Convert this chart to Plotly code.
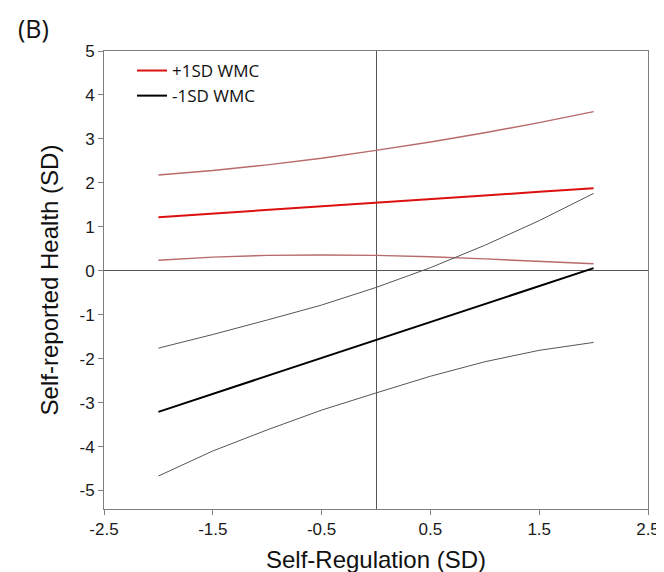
import plotly.graph_objects as go

# Self-Regulation (SD) values at which lines were evaluated
x_vals = [-2.0, -1.5, -1.0, -0.5, 0.0, 0.5, 1.0, 1.5, 2.0]

# +1SD WMC: estimate and confidence bounds
hi_mid = [1.22, 1.30, 1.39, 1.47, 1.55, 1.63, 1.71, 1.80, 1.88]
hi_upper = [2.18, 2.28, 2.41, 2.56, 2.74, 2.93, 3.14, 3.37, 3.62]
hi_lower = [0.24, 0.31, 0.35, 0.36, 0.35, 0.32, 0.27, 0.22, 0.16]

# -1SD WMC: estimate and confidence bounds
lo_mid = [-3.21, -2.80, -2.39, -1.99, -1.58, -1.17, -0.76, -0.35, 0.06]
lo_upper = [-1.76, -1.45, -1.12, -0.78, -0.38, 0.07, 0.58, 1.14, 1.76]
lo_lower = [-4.67, -4.10, -3.62, -3.17, -2.78, -2.40, -2.07, -1.81, -1.63]

x_ticks = [-2.5, -1.5, -0.5, 0.5, 1.5, 2.5]
y_ticks = [-5, -4, -3, -2, -1, 0, 1, 2, 3, 4, 5]

W, H = 664, 572
ML, MR, MT, MB = 96, 24, 43, 64

fig = go.Figure()

# confidence bounds (thin lines)
fig.add_trace(go.Scatter(x=x_vals, y=hi_upper, mode="lines", line=dict(color="#b86a6a", width=1.4), showlegend=False, hoverinfo="skip"))
fig.add_trace(go.Scatter(x=x_vals, y=hi_lower, mode="lines", line=dict(color="#b86a6a", width=1.4), showlegend=False, hoverinfo="skip"))
fig.add_trace(go.Scatter(x=x_vals, y=lo_upper, mode="lines", line=dict(color="#555555", width=1), showlegend=False, hoverinfo="skip"))
fig.add_trace(go.Scatter(x=x_vals, y=lo_lower, mode="lines", line=dict(color="#555555", width=1), showlegend=False, hoverinfo="skip"))

# main lines
fig.add_trace(go.Scatter(x=x_vals, y=hi_mid, mode="lines", name="+1SD WMC", line=dict(color="#dd1010", width=2)))
fig.add_trace(go.Scatter(x=x_vals, y=lo_mid, mode="lines", name="-1SD WMC", line=dict(color="#000000", width=2)))

axis_common = dict(
    showline=True, linecolor="#7f7f7f", linewidth=1, mirror=True,
    ticks="outside", ticklen=5, tickcolor="#7f7f7f",
    showgrid=False, zeroline=True, zerolinecolor="#555555", zerolinewidth=1,
    tickfont=dict(family="Liberation Sans, Arial", size=17, color="#1a1a1a"),
)

pw = W - ML - MR
ph = H - MT - MB

fig.update_layout(
    width=W, height=H,
    margin=dict(l=ML, r=MR, t=MT, b=MB),
    paper_bgcolor="white", plot_bgcolor="white",
    xaxis=dict(range=[-2.5, 2.5], tickvals=x_ticks, ticktext=[str(v) for v in x_ticks],
               title=dict(text="Self-Regulation (SD)", font=dict(family="Liberation Sans, Arial", size=24, color="#111111"), standoff=12),
               **axis_common),
    yaxis=dict(range=[-5.42, 5], tickvals=y_ticks, ticktext=[str(v) for v in y_ticks],
               title=dict(text="Self-reported Health (SD)", font=dict(family="Liberation Sans, Arial", size=24, color="#111111"), standoff=14),
               **axis_common),
    legend=dict(x=(124 - ML) / pw, y=1 - (45 - MT) / ph, xanchor="left", yanchor="top", bgcolor="rgba(0,0,0,0)",
                font=dict(family="Open Sans", size=17, color="#111111"), tracegroupgap=0),
    annotations=[dict(text="(B)", xref="paper", yref="paper",
                      x=(8 - ML) / pw, y=1 + (MT - 20) / ph,
                      xanchor="left", yanchor="middle", showarrow=False,
                      font=dict(family="Open Sans", size=25, color="#111111"))],
)

fig.write_html("out.html")
